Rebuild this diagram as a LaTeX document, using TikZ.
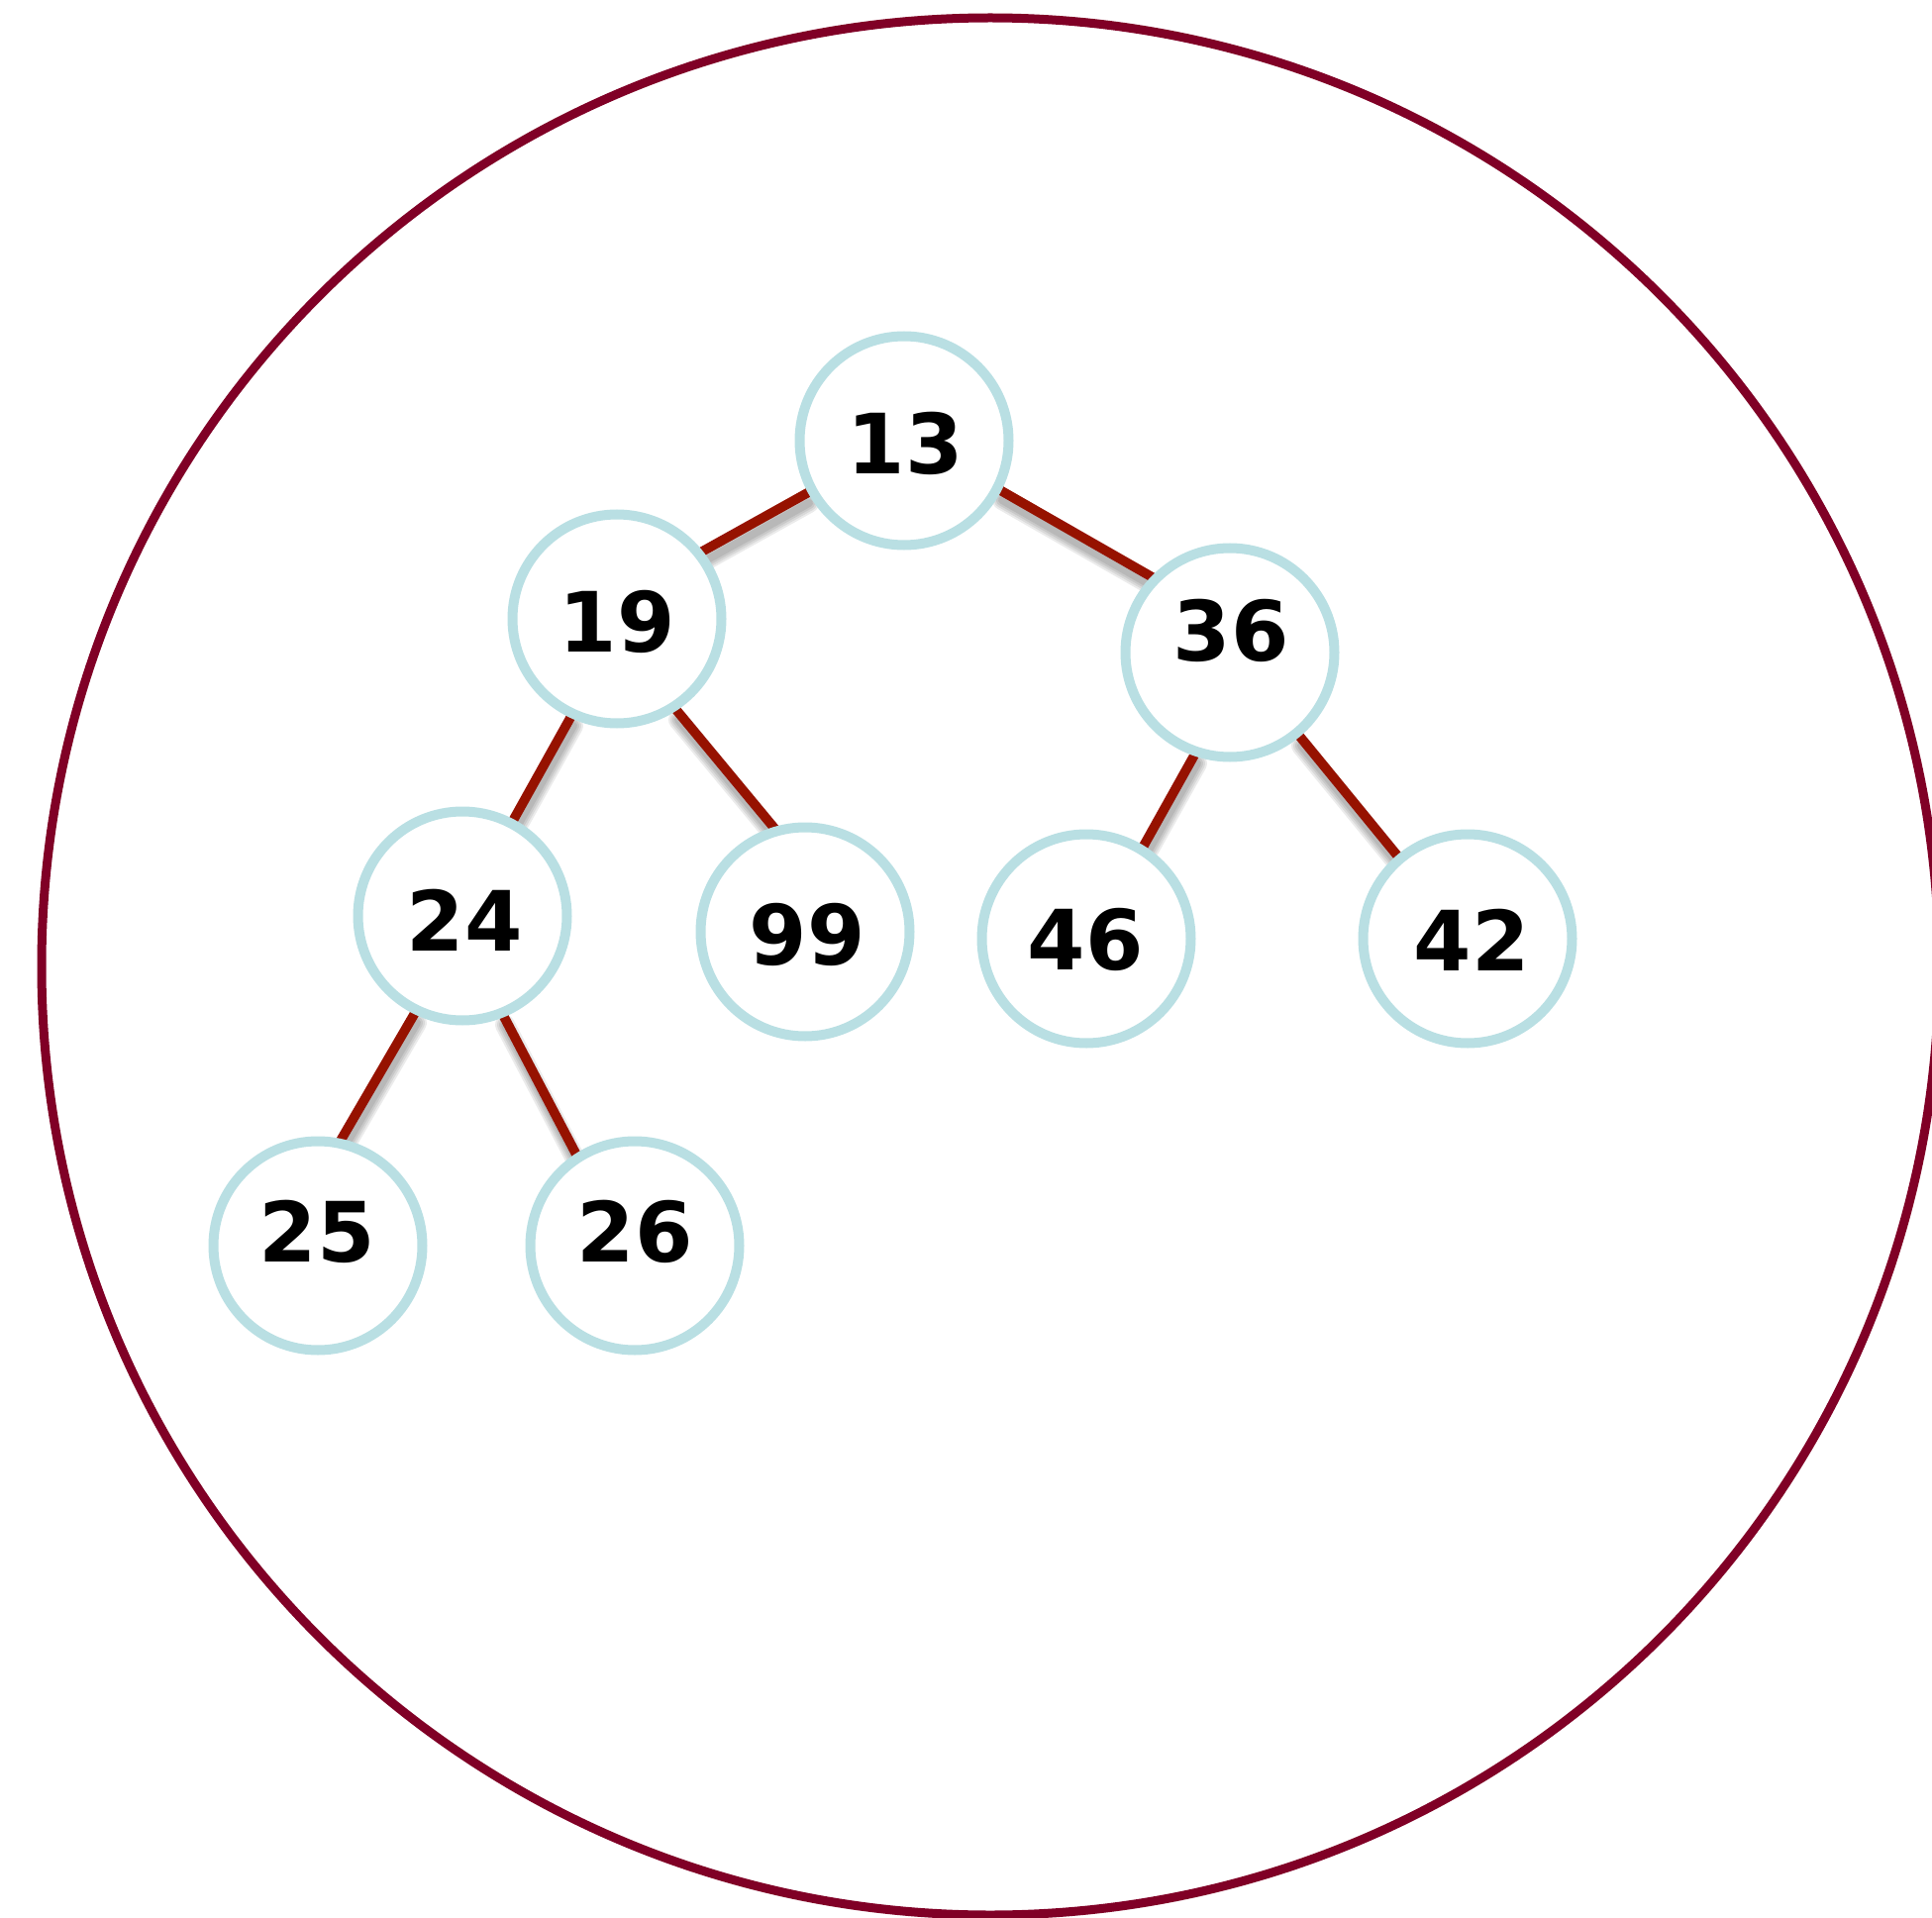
\documentclass[tikz,border=0pt]{standalone}
\usepackage{fontspec}
\setmainfont{DejaVu Sans}
\usetikzlibrary{calc,backgrounds}
\definecolor{ringred}{RGB}{128,0,38}
\definecolor{edgered}{RGB}{150,18,0}
\definecolor{nodeblue}{RGB}{185,223,227}
\tikzset{
  heapnode/.style={circle,draw=nodeblue,line width=5pt,fill=white,minimum size=105.5pt,inner sep=0pt},
  heaplabel/.style={inner sep=0pt,font=\fontsize{42}{50}\selectfont\bfseries,text=black},
  heapedge/.style={draw=edgered,line width=4.8pt},
  edgeshadow/.style={draw=black,opacity=0.08,line cap=round}
}
\begin{document}
\begin{tikzpicture}[x=0.5pt,y=-0.5pt]
\useasboundingbox (0,0) rectangle (1951,1937);
\draw[ringred,line width=4.5pt] (1000,976) circle[radius=479pt];
% nodes
\node[heapnode] (n13) at (913,445) {};
\node[heapnode] (n19) at (623,625) {};
\node[heapnode] (n36) at (1242,659) {};
\node[heapnode] (n24) at (467,925) {};
\node[heapnode] (n99) at (813,941) {};
\node[heapnode] (n46) at (1097,948) {};
\node[heapnode] (n42) at (1482,948) {};
\node[heapnode] (n25) at (321,1258) {};
\node[heapnode] (n26) at (641,1258) {};
% labels
\node[heaplabel] (t13) at (914,448) {13};
\node[heaplabel] (t19) at (623,628) {19};
\node[heaplabel] (t36) at (1243,637) {36};
\node[heaplabel] (t24) at (469,929) {24};
\node[heaplabel] (t99) at (815,944) {99};
\node[heaplabel] (t46) at (1096,949) {46};
\node[heaplabel] (t42) at (1486,949) {42};
\node[heaplabel] (t25) at (320,1244) {25};
\node[heaplabel] (t26) at (641,1244) {26};
% edges
\begin{scope}[on background layer]
\foreach \a/\ax/\ay/\b/\bx/\by in {
  n13/-98/53/n19/86/-68,
  n13/97/50/n36/-80/-77,
  n19/-46/98/n24/52/-98,
  n19/60/92/n99/-33/-107,
  n36/-35/102/n46/58/-94,
  n36/70/84/n42/-71/-84,
  n24/-48/98/n25/24/-108,
  n24/41/100/n26/-59/-92}{
  \foreach \w in {10pt,8pt,6pt,4pt}{
    \draw[edgeshadow,line width=\w] ($(\a)+(\ax,\ay)+(2,10)$) -- ($(\b)+(\bx,\by)+(2,10)$);
  }
  \draw[heapedge,shorten <=-15pt,shorten >=-15pt] ($(\a)+(\ax,\ay)$) -- ($(\b)+(\bx,\by)$);
}
\end{scope}
\end{tikzpicture}
\end{document}
